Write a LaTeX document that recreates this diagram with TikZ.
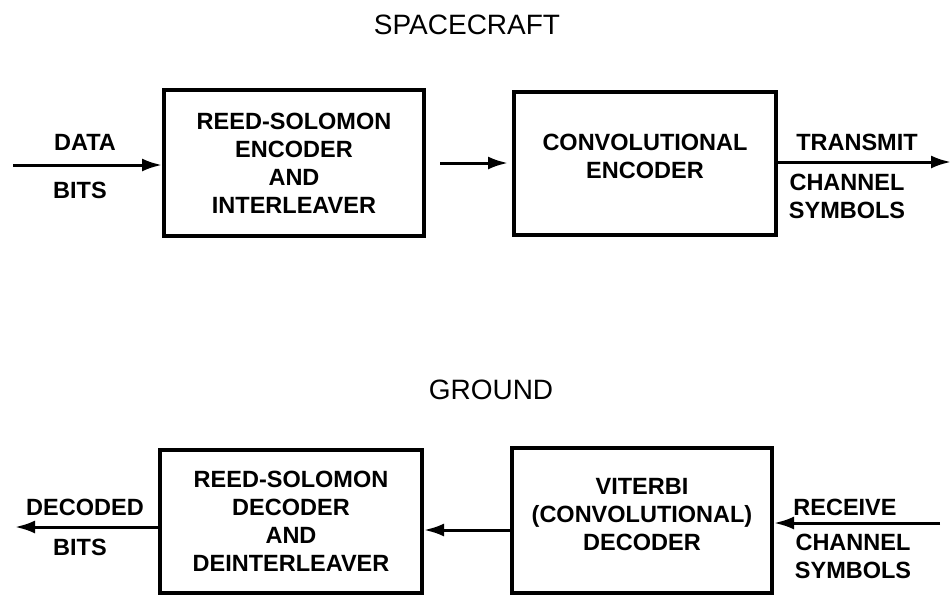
\documentclass[tikz,border=0pt]{standalone}
\usepackage{fontspec}
\setmainfont{Liberation Sans}
\usetikzlibrary{arrows.meta}
\usetikzlibrary{positioning}

\tikzset{
  block/.style={draw, line width=4pt, rectangle, align=center, inner sep=0pt,
    font=\bfseries\fontsize{23.5}{28}\selectfont},
  lbl/.style={font=\bfseries\fontsize{23.5}{28}\selectfont, inner sep=0pt},
  title/.style={font=\fontsize{28}{32}\selectfont, inner sep=0pt},
  flow/.style={line width=3pt, ->}
}

\begin{document}
\begin{tikzpicture}[x=1pt, y=-1pt, >={Latex[length=20pt,width=13pt]}]
  \useasboundingbox (0, 0) rectangle (951, 595);

  % spacecraft side
  \node[title] (sc) at (467, 25) {SPACECRAFT};
  \node[block, minimum width=260pt, minimum height=146pt] (rsenc) at (294, 163)
    {REED-SOLOMON\\ENCODER\\AND\\INTERLEAVER};
  \node[block, minimum width=262pt, minimum height=143pt] (convenc) at (645, 163.5)
    {CONVOLUTIONAL\\ENCODER\\[-13pt]};

  \coordinate (in) at (13, 165);
  \coordinate (m1) at (440, 163);
  \coordinate (m2) at (508, 163);
  \coordinate (out) at (951, 162);
  \draw[flow] (in) -- (in -| rsenc.west);
  \draw[flow] (m1) -- (m2);
  \draw[flow] (out -| convenc.east) -- (out);

  \node[lbl] (data) at (85, 142) {DATA};
  \node[lbl] (bits) at (80, 190) {BITS};
  \node[lbl] (tx) at (857, 142) {TRANSMIT};
  \node[lbl, align=center] (txsym) at (847, 196) {CHANNEL\\SYMBOLS};

  % ground side
  \node[title] (gnd) at (491, 390) {GROUND};
  \node[block, minimum width=262pt, minimum height=143pt] (rsdec) at (291, 521.5)
    {REED-SOLOMON\\DECODER\\AND\\DEINTERLEAVER};
  \node[block, minimum width=260pt, minimum height=145pt] (vit) at (642, 520.5)
    {VITERBI\\(CONVOLUTIONAL)\\DECODER\\[-15pt]};

  \coordinate (rx) at (940, 523);
  \coordinate (dout) at (15, 527);
  \coordinate (m3) at (500, 530);
  \draw[flow] (rx) -- (rx -| vit.east);
  \draw[flow] (m3 -| vit.west) -- (m3 -| rsdec.east);
  \draw[flow] (dout -| rsdec.west) -- (dout);

  \node[lbl] (dec) at (85, 507) {DECODED};
  \node[lbl] (dbits) at (80, 547) {BITS};
  \node[lbl] (rcv) at (845, 507) {RECEIVE};
  \node[lbl, align=center] (rxsym) at (853, 556) {CHANNEL\\SYMBOLS};
\end{tikzpicture}
\end{document}
